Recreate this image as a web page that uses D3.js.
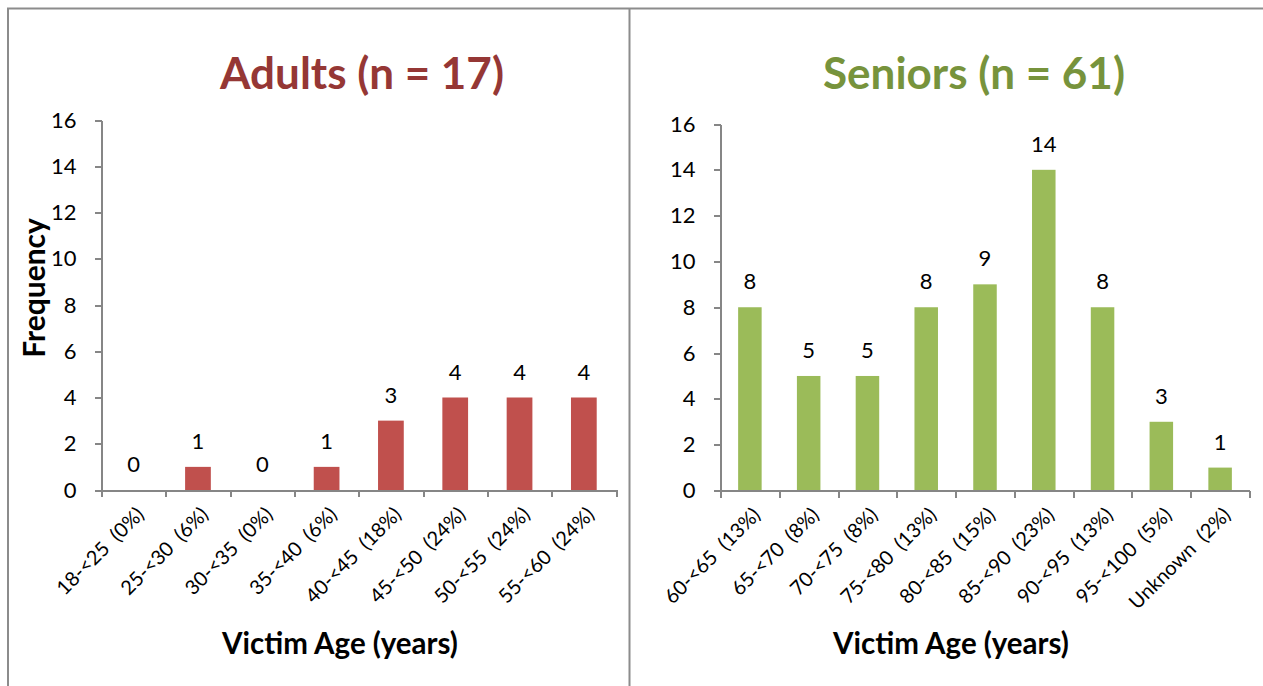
<!DOCTYPE html>
<html>
<head>
<meta charset="utf-8">
<script src="https://d3js.org/d3.v7.min.js"></script>
<style>
  body { margin: 0; background: #fff; }
  svg text { font-family: Lato, "Open Sans", "DejaVu Sans", sans-serif; fill: #000; }
  .axis path, .axis line { stroke: #868686; stroke-width: 2px; shape-rendering: crispEdges; }
  .axis text { font-size: 22px; }
  .catLabel { font-size: 20px; white-space: pre; }
  .valLabel { font-size: 22px; }
  .chartTitle { font-size: 44px; font-weight: bold; }
  .axisTitle { font-size: 29.5px; font-weight: bold; }
</style>
</head>
<body>
<div id="plot"></div>
<script>
// Chart data
var adultLabels = ["18-<25  (0%)", "25-<30  (6%)", "30-<35  (0%)", "35-<40  (6%)",
  "40-<45  (18%)", "45-<50  (24%)", "50-<55  (24%)", "55-<60  (24%)"];
var adultCounts = [0, 1, 0, 1, 3, 4, 4, 4];

var seniorLabels = ["60-<65  (13%)", "65-<70  (8%)", "70-<75  (8%)", "75-<80  (13%)",
  "80-<85  (15%)", "85-<90  (23%)", "90-<95  (13%)", "95-<100  (5%)", "Unknown  (2%)"];
var seniorCounts = [8, 5, 5, 8, 9, 14, 8, 3, 1];

var freqTicks = [0, 2, 4, 6, 8, 10, 12, 14, 16];

// SVG area
var svgWidth = 1263;
var svgHeight = 686;

var svg = d3.select("#plot")
  .append("svg")
  .attr("width", svgWidth)
  .attr("height", svgHeight);

// frame round the two panels
svg.append("path")
  .attr("d", "M8,686 V8.5 H1263 M629.5,8.5 V686")
  .attr("fill", "none")
  .attr("stroke", "#8c8c8c")
  .attr("stroke-width", 2);

// draws one bar panel
function drawPanel(p) {
  var g = svg.append("g");

  var yScale = d3.scaleLinear()
    .domain([0, 16])
    .range([p.bottom, p.top]);

  var xBand = d3.scaleBand()
    .domain(p.labels)
    .range([p.left, p.right])
    .paddingInner(0.6)
    .paddingOuter(0.3);

  // category boundaries for the tick marks
  var xEdges = d3.scaleLinear()
    .domain([0, p.labels.length])
    .range([p.left, p.right]);

  // bars
  g.selectAll(".bar")
    .data(p.counts)
    .enter()
    .append("rect")
    .attr("x", (d, i) => xBand(p.labels[i]))
    .attr("y", d => yScale(d))
    .attr("width", xBand.bandwidth())
    .attr("height", d => p.bottom - yScale(d))
    .attr("fill", p.color);

  // value labels
  g.selectAll(".valLabel")
    .data(p.counts)
    .enter()
    .append("text")
    .attr("class", "valLabel")
    .attr("x", (d, i) => xBand(p.labels[i]) + xBand.bandwidth() / 2)
    .attr("y", d => yScale(d) - 18)
    .attr("text-anchor", "middle")
    .text(d => d);

  // axes
  g.append("g")
    .attr("class", "axis")
    .attr("transform", `translate(0, ${p.bottom})`)
    .call(d3.axisBottom(xEdges)
      .tickValues(d3.range(p.labels.length + 1))
      .tickFormat("")
      .tickSize(7)
      .tickSizeOuter(0));

  g.append("g")
    .attr("class", "axis")
    .attr("transform", `translate(${p.left}, 0)`)
    .call(d3.axisLeft(yScale)
      .tickValues(freqTicks)
      .tickSize(7)
      .tickPadding(18)
      .tickSizeOuter(0));

  // rotated category labels
  g.selectAll(".catLabel")
    .data(p.labels)
    .enter()
    .append("text")
    .attr("class", "catLabel")
    .attr("text-anchor", "end")
    .attr("dominant-baseline", "central")
    .attr("transform", d => `translate(${xBand(d) + xBand.bandwidth() / 2 + 6}, ${p.bottom + 20}) rotate(-45)`)
    .text(d => d);

  // titles
  g.append("text")
    .attr("class", "chartTitle")
    .attr("x", p.titleX)
    .attr("y", 89)
    .attr("text-anchor", "middle")
    .style("fill", p.titleColor)
    .text(p.title);

  g.append("text")
    .attr("class", "axisTitle")
    .attr("x", p.axisTitleX)
    .attr("y", 654)
    .attr("text-anchor", "middle")
    .text("Victim Age (years)");
}

drawPanel({
  labels: adultLabels, counts: adultCounts,
  left: 101.5, right: 616, top: 120, bottom: 490,
  color: "#C0504D", title: "Adults (n = 17)", titleColor: "#953735",
  titleX: 362, axisTitleX: 340
});

drawPanel({
  labels: seniorLabels, counts: seniorCounts,
  left: 720.5, right: 1249.5, top: 124, bottom: 490.5,
  color: "#9BBB59", title: "Seniors (n = 61)", titleColor: "#77933C",
  titleX: 974, axisTitleX: 951
});

// y axis title (only on the left panel)
svg.append("text")
  .attr("class", "axisTitle")
  .attr("transform", "translate(33, 288) rotate(-90)")
  .attr("text-anchor", "middle")
  .attr("dominant-baseline", "central")
  .style("font-size", "30px")
  .text("Frequency");
</script>
</body>
</html>
